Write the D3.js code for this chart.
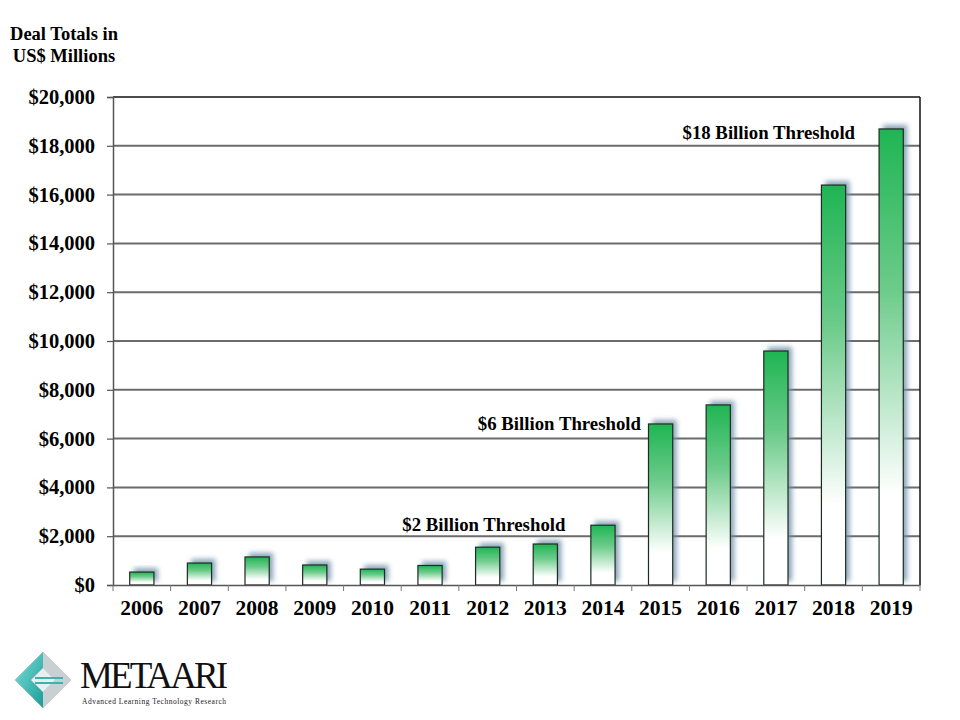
<!DOCTYPE html>
<html><head><meta charset="utf-8">
<script src="https://cdn.jsdelivr.net/npm/d3@7"></script>
<style>body{margin:0;background:#fff}svg{display:block}</style>
</head><body>
<svg id="c" width="960" height="720"></svg>
<script>
const years = ["2006","2007","2008","2009","2010","2011","2012","2013","2014","2015","2016","2017","2018","2019"];
const dealTotals = [530, 900, 1150, 820, 650, 800, 1550, 1680, 2450, 6600, 7380, 9590, 16390, 18690];
const yTicks = [0,2000,4000,6000,8000,10000,12000,14000,16000,18000,20000];
const annotations = [
  {year:"2014", value:2450, text:"$2 Billion Threshold", anchor:"middle", dx:-107, dy:6},
  {year:"2015", value:6600, text:"$6 Billion Threshold", anchor:"end", dx:-7.5, dy:6},
  {year:"2019", value:18690, text:"$18 Billion Threshold", anchor:"end", dx:-24, dy:10}
];

const svg = d3.select("#c");
const m = {l:113, r:920, t:97, b:585};
const x = d3.scaleBand().domain(years).range([m.l, m.r]).paddingInner(0.58).paddingOuter(0.29);
const xb = d3.scaleBand().domain(years).range([m.l, m.r]);
const y = d3.scaleLinear().domain([0,20000]).range([m.b, m.t]);
const font = "'Liberation Serif','Times New Roman',serif";

const defs = svg.append("defs");
const g = defs.append("linearGradient").attr("id","gr").attr("x1",0).attr("y1",0).attr("x2",0).attr("y2",1);
g.append("stop").attr("offset","0%").attr("stop-color","#1fb553");
g.append("stop").attr("offset","35%").attr("stop-color","#6ccb8a");
g.append("stop").attr("offset","80%").attr("stop-color","#ffffff");
g.append("stop").attr("offset","100%").attr("stop-color","#ffffff");
const f = defs.append("filter").attr("id","sh").attr("x","-50%").attr("y","-20%").attr("width","200%").attr("height","140%");
f.append("feGaussianBlur").attr("stdDeviation",2.8);

// gridlines
svg.append("g").selectAll("line").data(yTicks.slice(1, -1)).join("line")
  .attr("x1", m.l).attr("x2", m.r).attr("y1", d=>y(d)).attr("y2", d=>y(d))
  .attr("stroke","#6b6b6b").attr("stroke-width",2);

// frame top/right
svg.append("line").attr("x1",m.l).attr("x2",m.r).attr("y1",m.t).attr("y2",m.t).attr("stroke","#111").attr("stroke-width",1.5);
svg.append("line").attr("x1",m.r).attr("x2",m.r).attr("y1",m.t).attr("y2",m.b).attr("stroke","#111").attr("stroke-width",1.5);

// shadows
svg.append("g").selectAll("rect").data(years).join("rect")
  .attr("x", (d)=>x(d)+4).attr("y",(d,i)=>y(dealTotals[i])-4)
  .attr("width", x.bandwidth()).attr("height",(d,i)=>y(0)-y(dealTotals[i]))
  .attr("fill","#6f90a8").attr("opacity",0.8).attr("filter","url(#sh)");

// bars
svg.append("g").selectAll("rect").data(years).join("rect")
  .attr("x", d=>x(d)).attr("y",(d,i)=>y(dealTotals[i]))
  .attr("width", x.bandwidth()).attr("height",(d,i)=>y(0)-y(dealTotals[i]))
  .attr("fill","url(#gr)").attr("stroke","#1f2a22").attr("stroke-width",1.2);

// y axis
const ya = svg.append("g").attr("transform",`translate(${m.l},0)`)
  .call(d3.axisLeft(y).tickValues(yTicks).tickSize(6).tickPadding(12).tickFormat(d=>"$"+d3.format(",")(d)));
ya.select(".domain").attr("stroke","#555").attr("stroke-width",1.5);
ya.selectAll(".tick line").attr("stroke","#555").attr("stroke-width",1.2);
ya.selectAll("text").attr("font-family",font).attr("font-weight","bold").attr("font-size",20.5).attr("fill","#000");

// x axis
const xa = svg.append("g").attr("transform",`translate(0,${m.b})`)
  .call(d3.axisBottom(xb).tickSize(0).tickPadding(15));
xa.select(".domain").attr("stroke","#555").attr("stroke-width",1.5);
xa.selectAll("text").attr("font-family",font).attr("font-weight","bold").attr("font-size",21.5).attr("fill","#000");
svg.append("g").selectAll("line").data(years.concat(["end"])).join("line")
  .attr("x1",(d,i)=> i<years.length ? xb(d) : m.r).attr("x2",(d,i)=> i<years.length ? xb(d) : m.r)
  .attr("y1",m.b).attr("y2",m.b+6).attr("stroke","#777").attr("stroke-width",1);

// annotations
svg.append("g").selectAll("text").data(annotations).join("text")
  .attr("x", d=>x(d.year)+d.dx).attr("y", d=>y(d.value)+d.dy)
  .attr("text-anchor", d=>d.anchor)
  .attr("font-family",font).attr("font-weight","bold").attr("font-size",18.8).attr("fill","#000")
  .text(d=>d.text);

// axis title
const tt = svg.append("text").attr("font-family",font).attr("font-weight","bold").attr("font-size",18.5).attr("text-anchor","middle");
tt.append("tspan").attr("x",64).attr("y",40).text("Deal Totals in");
tt.append("tspan").attr("x",64).attr("y",62).text("US$ Millions");

// logo
const lg = svg.append("g").attr("transform","translate(43,680)");
const dg = defs.append("linearGradient").attr("id","dg").attr("x1",0).attr("y1",0).attr("x2",1).attr("y2",1);
dg.append("stop").attr("offset","0%").attr("stop-color","#7fe0d8");
dg.append("stop").attr("offset","100%").attr("stop-color","#1a9c98");
lg.append("path").attr("d","M0,-28 L28,0 L0,28 L-28,0 Z").attr("fill","#9aa3a8");
lg.append("path").attr("d","M0,-28 L-28,0 L0,28 L0,12 L-12,0 L0,-12 Z").attr("fill","url(#dg)");
lg.append("path").attr("d","M0,-28 L28,0 L0,28 L0,12 L12,0 L0,-12 Z").attr("fill","#c9d0d4");
lg.append("path").attr("d","M-12,0 L0,-12 L12,0 L0,12 Z").attr("fill","#e9eef0");
lg.append("line").attr("x1",-8).attr("x2",20).attr("y1",-2).attr("y2",-2).attr("stroke","#3ab5ae").attr("stroke-width",2);
lg.append("line").attr("x1",-8).attr("x2",20).attr("y1",3).attr("y2",3).attr("stroke","#3ab5ae").attr("stroke-width",2);
svg.append("text").attr("x",80).attr("y",688).attr("font-family",font).attr("font-size",37).attr("fill","#111").attr("textLength",148).text("METAARI");
svg.append("text").attr("x",82).attr("y",704).attr("font-family",font).attr("font-size",7.5).attr("fill","#222").attr("textLength",144).text("Advanced Learning Technology Research");
</script>
</body></html>
